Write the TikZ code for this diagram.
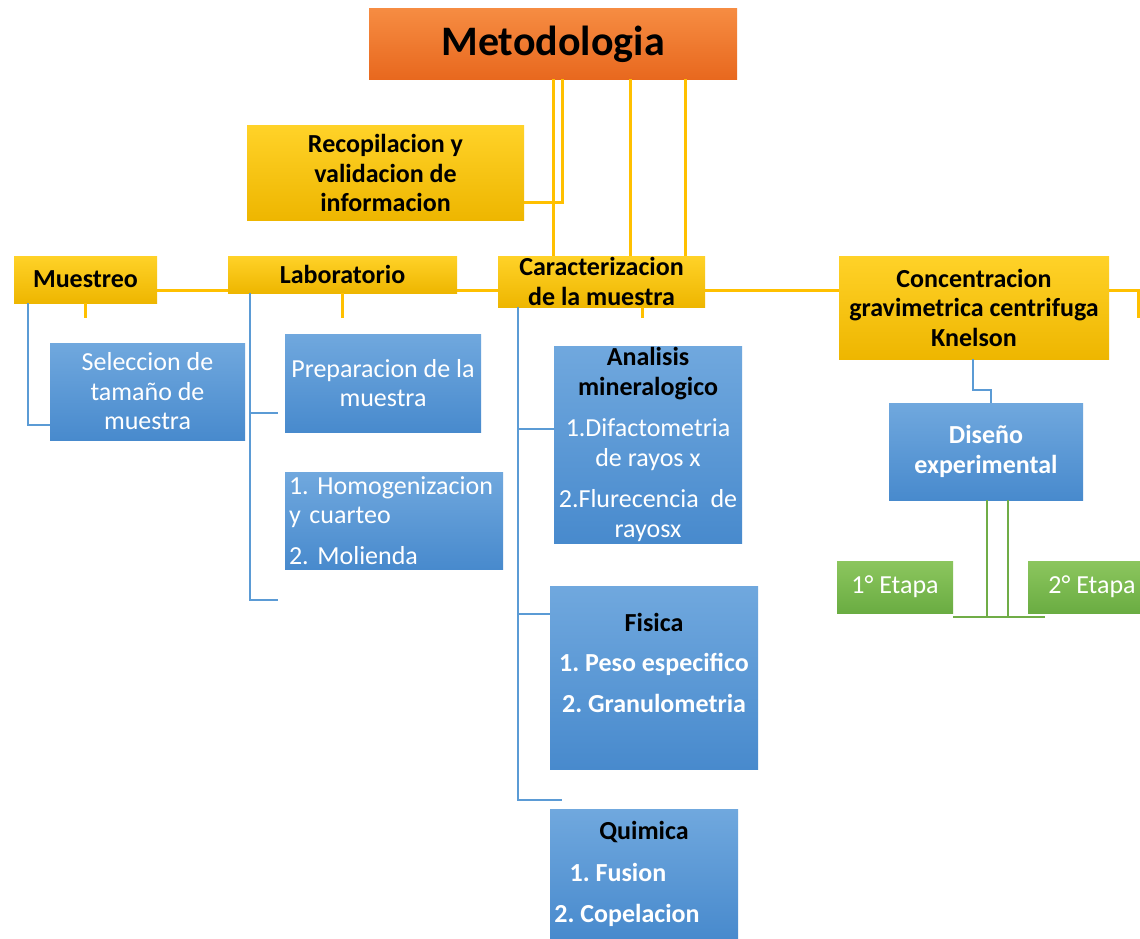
\documentclass[tikz,border=0pt]{standalone}
\usepackage{fontspec}
\setmainfont{Carlito}
\usepackage{xcolor}
\usepackage{tikz}
\frenchspacing

\definecolor{orangeTop}{RGB}{246,140,66}
\definecolor{orangeBot}{RGB}{232,104,30}
\definecolor{yellowTop}{RGB}{255,210,40}
\definecolor{yellowBot}{RGB}{238,182,0}
\definecolor{blueTop}{RGB}{112,168,222}
\definecolor{blueBot}{RGB}{72,138,205}
\definecolor{greenTop}{RGB}{140,198,94}
\definecolor{greenBot}{RGB}{106,172,66}
\definecolor{linkYellow}{RGB}{255,192,0}
\definecolor{linkBlue}{RGB}{91,155,213}
\definecolor{linkGreen}{RGB}{112,173,71}

\begin{document}
\begin{tikzpicture}[
  x=1pt, y=-1pt,
  every node/.style={inner sep=0pt, outer sep=0pt, font=\fontsize{26}{29.5}\selectfont},
  obox/.style={top color=orangeTop, bottom color=orangeBot, font=\fontsize{42}{46}\selectfont\bfseries},
  ybox/.style={top color=yellowTop, bottom color=yellowBot, align=center, font=\fontsize{26}{29.5}\selectfont\bfseries},
  bbox/.style={top color=blueTop, bottom color=blueBot, text=white, align=center},
  gbox/.style={top color=greenTop, bottom color=greenBot, text=white},
  ylink/.style={draw=linkYellow, line width=3pt},
  blink/.style={draw=linkBlue, line width=2.5pt},
  glink/.style={draw=linkGreen, line width=2.5pt}
]
\path[use as bounding box, fill=white] (0,0) rectangle (1140,939);

\node[obox, minimum width=368pt, minimum height=71pt] (meto) at (553,44) {Metodologia};
\node[ybox, minimum width=277pt, minimum height=94pt] (recop) at (385.5,173) {Recopilacion y\\validacion de\\informacion};
\node[ybox, minimum width=143pt, minimum height=47pt] (muest) at (85.5,279.5) {Muestreo};
\node[ybox, minimum width=229pt, minimum height=37pt] (lab) at (342.5,274.5) {Laboratorio};
\node[ybox, minimum width=207pt, minimum height=51pt] (carac) at (601.5,281.5) {Caracterizacion\\de la muestra};
\node[ybox, minimum width=270pt, minimum height=103pt] (conc) at (974,307.5) {Concentracion\\gravimetrica centrifuga\\Knelson};

\node[bbox, minimum width=195pt, minimum height=97pt] (selec) at (147.5,391.5) {Seleccion de\\tamaño de\\muestra};
\node[bbox, minimum width=196pt, minimum height=98pt] (prep) at (383,383) {Preparacion de la\\muestra};
\node[bbox, minimum width=218pt, minimum height=97pt, align=left, text width=210pt] (homog) at (394,520.5)
  {1. Homogenizacion\\y cuarteo\\[11pt]2. Molienda};
\node[bbox, minimum width=188pt, minimum height=197pt] (anal) at (648,444.5)
  {\textcolor{black}{\bfseries Analisis}\\\textcolor{black}{\bfseries mineralogico}\\[12pt]1.Difactometria\\de rayos x\\[12pt]2.Flurecencia~ de\\rayosx};
\node[bbox, minimum width=208pt, minimum height=183pt, font=\fontsize{26}{29.5}\selectfont\bfseries] (fis) at (654,677.5)
  {\textcolor{black}{Fisica}\\[11pt]1. Peso especifico\\[11pt]2. Granulometria\\~};
\node[bbox, minimum width=188pt, minimum height=130pt, font=\fontsize{26}{29.5}\selectfont\bfseries] (quim) at (644,874)
  {\textcolor{black}{Quimica}\\[12pt]1. Fusion\hspace{52pt}\mbox{}\\[12pt]2. Copelacion\hspace{34pt}\mbox{}};
\node[bbox, minimum width=194pt, minimum height=97pt, font=\fontsize{26}{29.5}\selectfont\bfseries] (disen) at (986,451.5) {Diseño\\experimental};
\node[gbox, minimum width=116pt, minimum height=52pt] (et1) at (895,587) {1° Etapa};
\node[gbox, minimum width=128pt, minimum height=52pt] (et2) at (1092,587) {2° Etapa};

% yellow links
\draw[ylink] (meto.south) -- (meto.south |- carac.north);
\draw[ylink] ([xshift=9pt]meto.south) |- ([yshift=-29pt]recop.east);
\draw[ylink] ([xshift=77pt]meto.south) -- ([xshift=28.5pt]carac.north);
\draw[ylink] ([xshift=132pt]meto.south) -- ([xshift=83.5pt]carac.north);
\draw[ylink] ([yshift=-10.5pt]muest.east) -- ([yshift=-10.5pt]muest.east -| lab.west);
\draw[ylink] ([yshift=-15.5pt]lab.east) -- ([yshift=-15.5pt]lab.east -| carac.west);
\draw[ylink] ([yshift=-8.5pt]carac.east) -- ([yshift=-8.5pt]carac.east -| conc.west);
\coordinate (concEnd) at (1138,318);
\draw[ylink] ([yshift=17.5pt]conc.east) -| (concEnd);
\draw[ylink] (muest.south) -- ++(0,15);
\draw[ylink] (lab.south) -- ++(0,25);
\draw[ylink] ([xshift=40.5pt]carac.south) -- ++(0,11);

% blue links
\draw[blink] ([xshift=-57.5pt]muest.south) |- ([yshift=-33.5pt]selec.west);
\coordinate (labA) at (278,413);
\coordinate (labB) at (278,600);
\draw[blink] ([xshift=-92.5pt]lab.south) |- (labB);
\draw[blink] ([xshift=-92.5pt]lab.south |- labA) -- (labA);
\coordinate (caracEnd) at (562,800);
\draw[blink] ([xshift=-83.5pt]carac.south) |- (caracEnd);
\draw[blink] ([xshift=-83.5pt]carac.south |- anal.west) ++(0,-15.5) -- ([yshift=15.5pt]anal.west);
\draw[blink] ([xshift=-83.5pt]carac.south |- fis.west) ++(0,-63.5) -- ([yshift=63.5pt]fis.west);
\draw[blink] ([xshift=-1pt]conc.south) -- ++(0,31) -| ([xshift=5pt]disen.north);

% green links
\draw[glink] ([xshift=1pt]disen.south) -- ++(0,117);
\draw[glink] ([xshift=22pt]disen.south) -- ++(0,117);
\draw[glink] ([yshift=-4pt]et1.south east) -- ++(92,0);
\end{tikzpicture}
\end{document}
